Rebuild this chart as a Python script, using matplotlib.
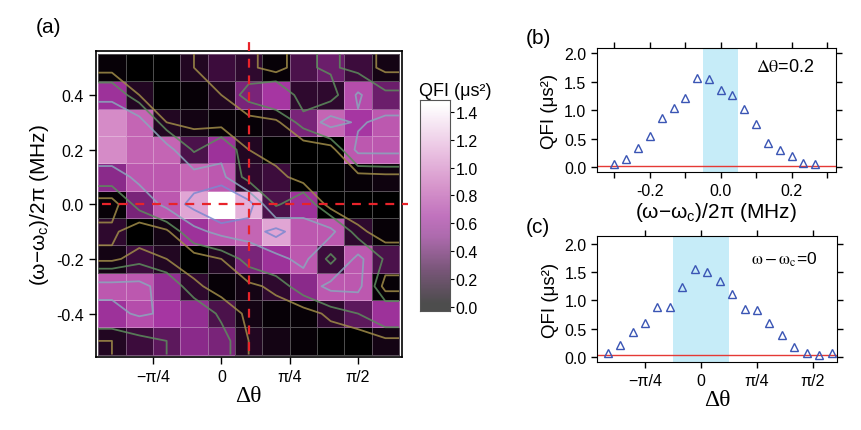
import numpy as np
import matplotlib
matplotlib.use("Agg")
import matplotlib.pyplot as plt
from matplotlib.colors import LinearSegmentedColormap, Normalize

plt.rcParams['font.family'] = ['Liberation Sans', 'DejaVu Sans']
plt.rcParams['axes.unicode_minus'] = False
plt.rcParams['mathtext.fontset'] = 'custom'
plt.rcParams['mathtext.rm'] = 'Liberation Sans'
plt.rcParams['mathtext.it'] = 'Liberation Sans:italic'

# ---- panel (a): QFI map, columns in units of pi, rows in MHz (top row first)
dtheta_cols = [-0.4, -0.3, -0.2, -0.1, 0.0, 0.1, 0.2, 0.3, 0.4, 0.5, 0.6]
detune_rows = [0.5, 0.4, 0.3, 0.2, 0.1, 0.0, -0.1, -0.2, -0.3, -0.4, -0.5]
qfi_map = [
    [0.05, 0.00, 0.02, 0.15, 0.25, 0.20, 0.05, 0.30, 0.40, 0.25, 0.10],
    [0.60, 0.15, 0.00, 0.05, 0.15, 0.45, 0.65, 0.20, 0.20, 0.75, 0.40],
    [1.00, 0.85, 0.15, 0.10, 0.05, 0.05, 0.10, 0.45, 0.85, 0.65, 0.80],
    [1.00, 0.85, 0.85, 0.30, 0.60, 0.15, 0.00, 0.00, 0.02, 0.80, 0.80],
    [0.50, 0.80, 0.80, 0.85, 0.80, 0.20, 0.25, 0.02, 0.00, 0.05, 0.08],
    [0.05, 0.45, 0.80, 1.10, 1.45, 1.15, 0.30, 0.60, 0.02, 0.00, 0.02],
    [0.20, 0.00, 0.10, 0.60, 0.80, 0.85, 1.10, 0.80, 0.80, 0.20, 0.05],
    [0.10, 0.25, 0.15, 0.02, 0.15, 0.45, 0.60, 0.80, 0.25, 0.80, 0.30],
    [0.80, 0.80, 0.55, 0.20, 0.05, 0.10, 0.20, 0.50, 0.80, 0.80, 0.05],
    [0.60, 0.75, 0.65, 0.55, 0.30, 0.10, 0.05, 0.05, 0.20, 0.35, 0.60],
    [0.15, 0.25, 0.35, 0.50, 0.45, 0.15, 0.10, 0.05, 0.02, 0.00, 0.10],
]
contour_levels = [0.15, 0.35, 0.7, 1.0]
contour_colors = ['#a08c48', '#5c8c5c', '#8aa6bc', '#7c88d0']
cut_dtheta = 0.1 * np.pi
cut_detune = 0.0
cbar_ticks = [0.0, 0.2, 0.4, 0.6, 0.8, 1.0, 1.2, 1.4]

# ---- panel (b): cut at dtheta = 0.2
b_detune = [-0.300, -0.267, -0.233, -0.200, -0.167, -0.133, -0.100, -0.067, -0.033,
            0.000, 0.033, 0.067, 0.100, 0.133, 0.167, 0.200, 0.233, 0.267]
b_qfi = [0.06, 0.15, 0.34, 0.54, 0.86, 1.04, 1.21, 1.57, 1.54,
         1.36, 1.27, 1.02, 0.76, 0.42, 0.30, 0.19, 0.07, 0.05]

# ---- panel (c): cut at omega - omega_c = 0, dtheta in degrees
c_dtheta_deg = [-75, -65, -55, -45, -35, -25, -15, -5, 5, 15,
                25, 35, 45, 55, 65, 75, 85, 95, 105]
c_qfi = [0.07, 0.20, 0.44, 0.60, 0.88, 0.89, 1.24, 1.56, 1.50, 1.35,
         1.11, 0.85, 0.83, 0.60, 0.39, 0.18, 0.07, 0.03, 0.07]

pi_ticks = [-np.pi / 4, 0, np.pi / 4, np.pi / 2]
pi_labels = ['\u2212\u03c0/4', '0', '\u03c0/4', '\u03c0/2']

vmin, vmax = -0.03, 1.49
stops = [(-0.03, '#000000'), (0.02, '#000000'), (0.25, '#3c0c3c'), (0.5, '#8a2a8a'),
         (0.65, '#a636a2'), (0.85, '#c464b4'), (1.1, '#e0a4d4'), (1.45, '#ffffff'),
         (1.49, '#ffffff')]
cmap = LinearSegmentedColormap.from_list(
    'qfi', [((v - vmin) / (vmax - vmin), c) for v, c in stops])
norm = Normalize(vmin, vmax)

fig = plt.figure(figsize=(8.61, 4.31), dpi=100)

# ================= (a)
ax = fig.add_axes([0.1111, 0.1687, 0.3554, 0.71])
xc = np.array(dtheta_cols) * np.pi
yc = np.array(detune_rows)[::-1]
Z = np.array(qfi_map)[::-1]
ax.pcolormesh(xc, yc, Z, shading='nearest', cmap=cmap, norm=norm,
              edgecolors=(1, 1, 1, 0.3), linewidth=0.5)
# contours reach the image edges: repeat the outer cells out to the edges
half_x = 0.05 * np.pi
xp = np.concatenate([[xc[0] - half_x], xc, [xc[-1] + half_x]])
yp = np.concatenate([[yc[0] - 0.05], yc, [yc[-1] + 0.05]])
Zp = np.pad(Z, 1, mode='edge')
ax.contour(xp, yp, Zp, levels=contour_levels, colors=contour_colors,
           linewidths=1.3, alpha=0.85)
ax.plot([cut_dtheta, cut_dtheta], [-0.537, 0.596], color='#e8232a', lw=1.6,
        dashes=(4, 3.5), clip_on=False, zorder=5)
ax.plot([-1.368, 2.15], [cut_detune, cut_detune], color='#e8232a', lw=1.6,
        dashes=(4, 3.5), clip_on=False, zorder=5)
ax.set_xlim(-0.45 * np.pi - 0.03, 0.65 * np.pi + 0.03)
ax.set_ylim(-0.56, 0.56)
ax.set_xticks(pi_ticks)
ax.set_xticklabels(pi_labels)
ax.set_yticks([-0.4, -0.2, 0.0, 0.2, 0.4])
ax.set_yticklabels(['-0.4', '-0.2', '0.0', '0.2', '0.4'])
ax.tick_params(direction='out', length=5, width=1, labelsize=11.5)
for s in ax.spines.values():
    s.set_linewidth(1.2)
ax.set_xlabel('\u0394\u03b8', family='Liberation Serif', fontsize=17, labelpad=1)
ax.set_ylabel('(\u03c9\u2212\u03c9$_{\\rm c}$)/2\u03c0 (MHz)', fontsize=15,
              labelpad=4, math_fontfamily='custom')
fig.text(0.056, 0.937, '(a)', fontsize=15, ha='center', va='center')

# colour bar
cax = fig.add_axes([0.4878, 0.2768, 0.0348, 0.4896])
grad = np.linspace(vmin, vmax, 300)[:, None]
cax.imshow(grad, aspect='auto', origin='lower', extent=(0, 1, vmin, vmax),
           cmap=cmap, norm=norm, alpha=0.7)
cax.set_xticks([])
cax.yaxis.tick_right()
cax.set_yticks(cbar_ticks)
cax.set_yticklabels(['%.1f' % t for t in cbar_ticks])
cax.tick_params(direction='out', length=3, labelsize=11.5, pad=1)
for s in cax.spines.values():
    s.set_color('#555555')
fig.text(0.487, 0.787, 'QFI (\u03bcs\u00b2)', fontsize=13, ha='left', va='center')


def style_cut(a):
    a.tick_params(which='both', direction='out', top=True, right=True,
                  length=4, width=1, labelsize=11.5)
    a.set_yticks([0.0, 0.5, 1.0, 1.5, 2.0])
    a.set_yticklabels(['0.0', '0.5', '1.0', '1.5', '2.0'])
    a.set_ylabel('QFI (\u03bcs\u00b2)', fontsize=13.5, labelpad=4)


# ================= (b)
ax = fig.add_axes([0.6930, 0.5979, 0.2779, 0.2884])
ax.axvspan(-0.05, 0.05, color='#c6ecf8', lw=0)
ax.axhline(0.02, color='#e53935', lw=1)
ax.plot(b_detune, b_qfi, '^', mfc='none', mec='#3a55b4', ms=6, mew=1)
ax.set_xlim(-0.35, 0.325)
ax.set_ylim(-0.09, 2.09)
ax.set_xticks([-0.2, 0.0, 0.2])
ax.set_xticklabels(['-0.2', '0.0', '0.2'])
ax.set_xticks([-0.3, -0.1, 0.1, 0.3], minor=True)
style_cut(ax)
ax.set_xlabel('(\u03c9\u2212\u03c9$_{\\rm c}$)/2\u03c0 (MHz)', fontsize=15,
              labelpad=2, math_fontfamily='custom')
ax.text(0.79, 0.85, '$\\mathrm{\\Delta\\theta}$=0.2', transform=ax.transAxes,
        fontsize=13, ha='center', va='center', math_fontfamily='stix')
fig.text(0.625, 0.91, '(b)', fontsize=15, ha='center', va='center')

# ================= (c)
ax = fig.add_axes([0.6937, 0.1571, 0.2780, 0.2923])
ax.axvspan(-np.pi / 8, np.pi / 8, color='#c6ecf8', lw=0)
ax.axhline(0.03, color='#e53935', lw=1)
ax.plot(np.deg2rad(c_dtheta_deg), c_qfi, '^', mfc='none', mec='#3a55b4', ms=6, mew=1)
ax.set_xlim(-1.454, 1.902)
ax.set_ylim(-0.1, 2.14)
ax.set_xticks(pi_ticks)
ax.set_xticklabels(pi_labels)
style_cut(ax)
ax.set_xlabel('\u0394\u03b8', family='Liberation Serif', fontsize=17, labelpad=1)
ax.text(0.78, 0.82, '$\\mathrm{\\omega-\\omega}_{\\rm c}$=0', transform=ax.transAxes,
        fontsize=12.5, ha='center', va='center', math_fontfamily='stix')
fig.text(0.625, 0.472, '(c)', fontsize=15, ha='center', va='center')

fig.savefig('out.png', dpi=100)
